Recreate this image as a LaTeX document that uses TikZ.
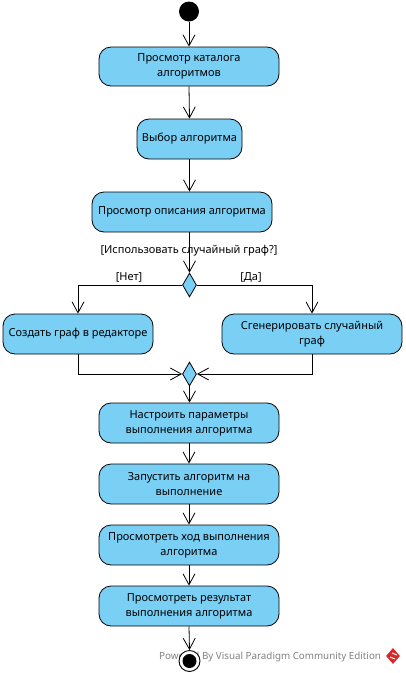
\documentclass[tikz,border=0pt]{standalone}
\usepackage{fontspec}
\setmainfont{Noto Sans}
\usetikzlibrary{arrows.meta,shapes.geometric}
\definecolor{vpblue}{RGB}{122,207,245}
\definecolor{wmgray}{RGB}{130,130,130}
\definecolor{vpred}{RGB}{214,40,40}
\begin{document}
\begin{tikzpicture}[x=1pt,y=-1pt,
  actbox/.style={draw=black,line width=0.8pt,fill=vpblue,rounded corners=12pt,
    inner sep=0pt,align=center,font=\fontsize{11}{15}\selectfont},
  dmd/.style={draw=black,line width=0.8pt,fill=vpblue,diamond,inner sep=0pt,
    minimum width=14pt,minimum height=24pt},
  flow/.style={draw=black,line width=0.8pt,-{Straight Barb[length=11pt,width=12pt,line width=0.8pt]}},
  lbl/.style={font=\fontsize{11}{13}\selectfont,inner sep=0pt}]
\useasboundingbox (0,0) rectangle (406,673);
\fill[white] (0,0) rectangle (406,673);

\node[circle,fill=black,minimum size=20pt,inner sep=0pt] (start) at (189,11.5) {};
\node[actbox,minimum width=180pt,minimum height=39pt] (b1) at (189,66.5) {Просмотр каталога\\алгоритмов};
\node[actbox,minimum width=105pt,minimum height=40pt] (b2) at (189.5,139) {Выбор алгоритма};
\node[actbox,minimum width=180pt,minimum height=40pt] (b3) at (182,212) {Просмотр описания алгоритма};
\node[dmd] (dec) at (189.5,285) {};
\node[lbl] (guard) at (189,251) {[Использовать случайный граф?]};
\node[lbl] (no) at (129,277) {[Нет]};
\node[lbl] (yes) at (251,277) {[Да]};
\node[actbox,minimum width=150pt,minimum height=40pt] (left) at (78,334) {Создать граф в редакторе};
\node[actbox,minimum width=180pt,minimum height=40pt] (right) at (312,334) {Сгенерировать случайный\\граф};
\node[dmd] (merge) at (189.5,374) {};
\node[actbox,minimum width=180pt,minimum height=40pt] (b4) at (189,423) {Настроить параметры\\выполнения алгоритма};
\node[actbox,minimum width=180pt,minimum height=40pt] (b5) at (189,484) {Запустить алгоритм на\\выполнение};
\node[actbox,minimum width=180pt,minimum height=40pt] (b6) at (189,545) {Просмотреть ход выполнения\\алгоритма};
\node[actbox,minimum width=180pt,minimum height=40pt] (b7) at (189,606) {Просмотреть результат\\выполнения алгоритма};

% watermark
\node[font=\fontsize{9.8}{12}\selectfont,text=wmgray,inner sep=0pt,anchor=west] (wm) at (159,657) {Powered By Visual Paradigm Community Edition};
\node[diamond,fill=vpred,minimum width=14pt,minimum height=16pt,inner sep=0pt] (logo) at (393,656) {};
\draw[white,line width=1pt] ([xshift=-3pt,yshift=-1pt]logo.center) -- ([xshift=2pt,yshift=-3pt]logo.center)
  ([xshift=-1pt,yshift=3pt]logo.center) -- ([xshift=4pt,yshift=1pt]logo.center);

\node[circle,draw=black,line width=0.9pt,fill=white,minimum size=21pt,inner sep=0pt] (final) at (189.5,661) {};
\node[circle,fill=black,minimum size=14pt,inner sep=0pt] (finalin) at (final.center) {};

\draw[flow] (start.south) -- (b1.north);
\draw[flow] (b1.south) -- (b2.north);
\draw[flow] (b2.south) -- (b2.south |- b3.north);
\draw[flow] (dec.north |- b3.south) -- (dec.north);
\draw[flow] (dec.west) -| (left.north);
\draw[flow] (dec.east) -| (right.north);
\draw[flow] (left.south) |- (merge.west);
\draw[flow] (right.south) |- (merge.east);
\draw[flow] (merge.south) -- (merge.south |- b4.north);
\draw[flow] (b4.south) -- (b5.north);
\draw[flow] (b5.south) -- (b6.north);
\draw[flow] (b6.south) -- (b7.north);
\draw[flow] (b7.south) -- (final.north);
\end{tikzpicture}
\end{document}
